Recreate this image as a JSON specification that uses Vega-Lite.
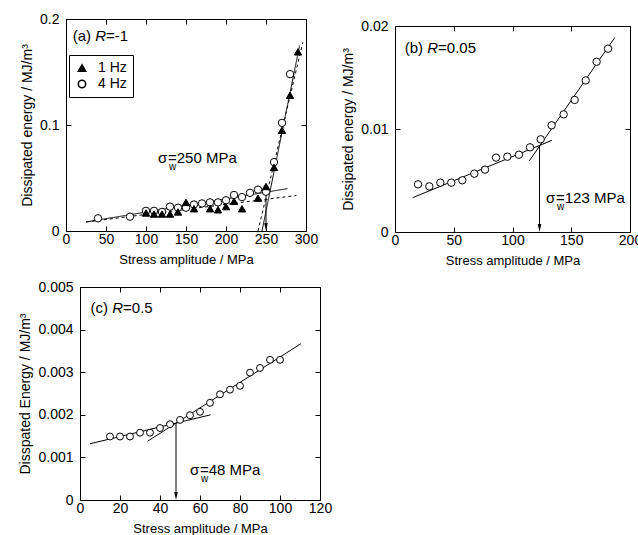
{
"$schema": "https://vega.github.io/schema/vega-lite/v6.json",
"padding": {"left": 18, "top": 11, "right": 5, "bottom": 5},
"background": "white",
"config": {
 "view": {"stroke": "black", "strokeWidth": 1},
 "font": "Liberation Sans",
 "axis": {"domainColor": "black", "domainWidth": 1, "tickColor": "black", "tickWidth": 1, "tickSize": -5, "labelColor": "black", "labelFont": "Liberation Sans", "labelFontSize": 14, "titleFont": "Liberation Sans", "titleColor": "black", "titleFontWeight": "normal", "titlePadding": 5, "grid": false, "labelFlush": false, "labelOverlap": false},
 "axisX": {"titleFontSize": 13, "labelPadding": 6, "titlePadding": 7},
 "axisY": {"titleFontSize": 14, "labelPadding": 12},
 "text": {"font": "Liberation Sans", "color": "black"}
},
"datasets": {
 "a_pts": [
  {"x": 40, "y": 0.012, "f": "4 Hz"}, {"x": 80, "y": 0.0135, "f": "4 Hz"}, {"x": 100, "y": 0.019, "f": "4 Hz"}, {"x": 110, "y": 0.019, "f": "4 Hz"}, {"x": 120, "y": 0.018, "f": "4 Hz"}, {"x": 130, "y": 0.023, "f": "4 Hz"}, {"x": 140, "y": 0.022, "f": "4 Hz"}, {"x": 150, "y": 0.022, "f": "4 Hz"}, {"x": 160, "y": 0.025, "f": "4 Hz"}, {"x": 170, "y": 0.026, "f": "4 Hz"}, {"x": 180, "y": 0.027, "f": "4 Hz"}, {"x": 190, "y": 0.027, "f": "4 Hz"}, {"x": 200, "y": 0.029, "f": "4 Hz"}, {"x": 210, "y": 0.034, "f": "4 Hz"}, {"x": 220, "y": 0.032, "f": "4 Hz"}, {"x": 230, "y": 0.036, "f": "4 Hz"}, {"x": 240, "y": 0.039, "f": "4 Hz"}, {"x": 250, "y": 0.037, "f": "4 Hz"}, {"x": 260, "y": 0.065, "f": "4 Hz"}, {"x": 270, "y": 0.102, "f": "4 Hz"}, {"x": 280, "y": 0.148, "f": "4 Hz"},
  {"x": 100, "y": 0.017, "f": "1 Hz"}, {"x": 110, "y": 0.016, "f": "1 Hz"}, {"x": 120, "y": 0.016, "f": "1 Hz"}, {"x": 130, "y": 0.016, "f": "1 Hz"}, {"x": 140, "y": 0.018, "f": "1 Hz"}, {"x": 150, "y": 0.027, "f": "1 Hz"}, {"x": 160, "y": 0.021, "f": "1 Hz"}, {"x": 180, "y": 0.021, "f": "1 Hz"}, {"x": 190, "y": 0.020, "f": "1 Hz"}, {"x": 200, "y": 0.023, "f": "1 Hz"}, {"x": 210, "y": 0.028, "f": "1 Hz"}, {"x": 220, "y": 0.021, "f": "1 Hz"}, {"x": 240, "y": 0.031, "f": "1 Hz"}, {"x": 250, "y": 0.042, "f": "1 Hz"}, {"x": 260, "y": 0.060, "f": "1 Hz"}, {"x": 270, "y": 0.095, "f": "1 Hz"}, {"x": 280, "y": 0.128, "f": "1 Hz"}, {"x": 290, "y": 0.169, "f": "1 Hz"}
 ],
 "a_lines": [
  {"id": "s1", "x": 25, "y": 0.0085, "d": "solid"}, {"id": "s1", "x": 277, "y": 0.040, "d": "solid"},
  {"id": "d1", "x": 25, "y": 0.0085, "d": "dashed"}, {"id": "d1", "x": 288, "y": 0.0335, "d": "dashed"},
  {"id": "s2", "x": 245, "y": 0, "d": "solid"}, {"id": "s2", "x": 292, "y": 0.175, "d": "solid"},
  {"id": "d2", "x": 240, "y": 0, "d": "dashed"}, {"id": "d2", "x": 296, "y": 0.178, "d": "dashed"}
 ],
 "a_arrow": [{"x": 250, "y": 0.039, "y2": 0.0038}],
 "a_lab": [{"x": 8.4, "y": 0.184, "pre": "(a)", "post": "=-1"}],
 "a_sig": [{"x": 115, "y": 0.0689, "t": "=250 MPa"}],
 "b_pts": [
  {"x": 19.6, "y": 0.00463}, {"x": 29.2, "y": 0.00443}, {"x": 38.6, "y": 0.00479}, {"x": 47.9, "y": 0.00479}, {"x": 57.3, "y": 0.00502}, {"x": 67.5, "y": 0.00566}, {"x": 76.6, "y": 0.00605}, {"x": 86, "y": 0.00722}, {"x": 95.6, "y": 0.00731}, {"x": 105.5, "y": 0.0075}, {"x": 114.9, "y": 0.00822}, {"x": 124, "y": 0.009}, {"x": 133.3, "y": 0.01036}, {"x": 143.5, "y": 0.01142}, {"x": 152.9, "y": 0.01282}, {"x": 162.3, "y": 0.01472}, {"x": 171.6, "y": 0.01653}, {"x": 181.3, "y": 0.0178}
 ],
 "b_lines": [
  {"id": "l", "x": 15, "y": 0.00333}, {"id": "l", "x": 133.6, "y": 0.0089},
  {"id": "h", "x": 114.3, "y": 0.0069}, {"id": "h", "x": 187, "y": 0.01887}
 ],
 "b_arrow": [{"x": 123, "y": 0.00845, "y2": 0.00039}],
 "b_lab": [{"x": 8.3, "y": 0.0179, "pre": "(b)", "post": "=0.05"}],
 "b_sig": [{"x": 128.5, "y": 0.00327, "t": "=123 MPa"}],
 "c_pts": [
  {"x": 15, "y": 0.00149}, {"x": 20, "y": 0.00149}, {"x": 25, "y": 0.00149}, {"x": 30, "y": 0.00158}, {"x": 35, "y": 0.00158}, {"x": 40, "y": 0.00169}, {"x": 45, "y": 0.00178}, {"x": 50, "y": 0.00188}, {"x": 55, "y": 0.00199}, {"x": 60, "y": 0.00207}, {"x": 65, "y": 0.00228}, {"x": 70, "y": 0.00248}, {"x": 75, "y": 0.00259}, {"x": 80, "y": 0.00268}, {"x": 85, "y": 0.00299}, {"x": 90, "y": 0.0031}, {"x": 95, "y": 0.00329}, {"x": 100, "y": 0.00329}
 ],
 "c_lines": [
  {"id": "l", "x": 5, "y": 0.00132}, {"id": "l", "x": 65.3, "y": 0.002},
  {"id": "h", "x": 33.8, "y": 0.00138}, {"id": "h", "x": 110.5, "y": 0.00367}
 ],
 "c_arrow": [{"x": 48, "y": 0.0018, "y2": 0.000094}],
 "c_lab": [{"x": 5.3, "y": 0.00451, "pre": "(c)", "post": "=0.5"}],
 "c_sig": [{"x": 55, "y": 0.000704, "t": "=48 MPa"}]
},
"columns": 2,
"spacing": {"row": 13, "column": 9},
"concat": [
   {
    "width": 240, "height": 212,
    "layer": [
     {"data": {"name": "a_lines"}, "mark": {"type": "line", "color": "black", "strokeWidth": 1},
      "encoding": {
       "x": {"field": "x", "type": "quantitative", "scale": {"domain": [0, 300], "nice": false}, "axis": {"orient": "top", "labels": false, "title": null, "values": [0, 50, 100, 150, 200, 250, 300]}},
       "y": {"field": "y", "type": "quantitative", "scale": {"domain": [0, 0.2], "nice": false}, "axis": {"orient": "right", "labels": false, "title": null, "values": [0, 0.1, 0.2]}},
       "detail": {"field": "id"},
       "strokeDash": {"field": "d", "type": "nominal", "scale": {"domain": ["solid", "dashed"], "range": [[1, 0], [3, 3]]}, "legend": null}
      }},
     {"data": {"name": "a_arrow"}, "mark": {"type": "rule", "color": "black", "strokeWidth": 1},
      "encoding": {
       "x": {"field": "x", "type": "quantitative", "scale": {"domain": [0, 300], "nice": false}, "axis": null},
       "y": {"field": "y", "type": "quantitative", "scale": {"domain": [0, 0.2], "nice": false}, "axis": null},
       "y2": {"field": "y2"}
      }},
     {"data": {"name": "a_arrow"}, "mark": {"type": "point", "shape": "M-0.45,-1L0.45,-1L0,1Z", "filled": true, "color": "black", "size": 64, "opacity": 1},
      "encoding": {
       "x": {"field": "x", "type": "quantitative", "scale": {"domain": [0, 300], "nice": false}, "axis": null},
       "y": {"field": "y2", "type": "quantitative", "scale": {"domain": [0, 0.2], "nice": false}, "axis": null}
      }},
     {"data": {"name": "a_pts"}, "mark": {"type": "point", "filled": true, "stroke": "black", "strokeWidth": 1, "size": 55, "opacity": 1},
      "encoding": {
       "x": {"field": "x", "type": "quantitative", "scale": {"domain": [0, 300], "nice": false}, "axis": {"orient": "bottom", "title": "Stress amplitude / MPa", "values": [0, 50, 100, 150, 200, 250, 300]}},
       "y": {"field": "y", "type": "quantitative", "scale": {"domain": [0, 0.2], "nice": false}, "axis": {"orient": "left", "title": "Dissipated energy / MJ/m³", "values": [0, 0.1, 0.2], "format": ".1~f"}},
       "shape": {"field": "f", "type": "nominal", "scale": {"domain": ["1 Hz", "4 Hz"], "range": ["triangle-up", "circle"]},
        "legend": {"title": null, "orient": "none", "legendX": 3, "legendY": 36, "strokeColor": "black", "padding": 6, "labelFontSize": 14, "labelFont": "Liberation Sans", "labelColor": "black", "symbolSize": 55, "rowPadding": 2, "labelOffset": 9, "encode": {"symbols": {"update": {"stroke": {"value": "black"}, "strokeWidth": {"value": 1}}}}}},
       "fill": {"field": "f", "type": "nominal", "scale": {"domain": ["1 Hz", "4 Hz"], "range": ["black", "white"]},
        "legend": {"title": null, "orient": "none", "legendX": 3, "legendY": 36, "strokeColor": "black", "padding": 6, "labelFontSize": 14, "labelFont": "Liberation Sans", "labelColor": "black", "symbolSize": 55, "rowPadding": 2, "labelOffset": 9, "encode": {"symbols": {"update": {"stroke": {"value": "black"}, "strokeWidth": {"value": 1}}}}}}
      }},
     {"data": {"name": "a_lab"}, "mark": {"type": "text", "align": "left", "baseline": "middle", "fontSize": 15},
      "encoding": {
       "x": {"field": "x", "type": "quantitative", "scale": {"domain": [0, 300], "nice": false}, "axis": null},
       "y": {"field": "y", "type": "quantitative", "scale": {"domain": [0, 0.2], "nice": false}, "axis": null},
       "text": {"field": "pre"}
      }},
     {"data": {"name": "a_lab"}, "mark": {"type": "text", "align": "left", "baseline": "middle", "fontSize": 15, "fontStyle": "italic", "dx": 22.5},
      "encoding": {
       "x": {"field": "x", "type": "quantitative", "scale": {"domain": [0, 300], "nice": false}, "axis": null},
       "y": {"field": "y", "type": "quantitative", "scale": {"domain": [0, 0.2], "nice": false}, "axis": null},
       "text": {"value": "R"}
      }},
     {"data": {"name": "a_lab"}, "mark": {"type": "text", "align": "left", "baseline": "middle", "fontSize": 15, "dx": 33.3},
      "encoding": {
       "x": {"field": "x", "type": "quantitative", "scale": {"domain": [0, 300], "nice": false}, "axis": null},
       "y": {"field": "y", "type": "quantitative", "scale": {"domain": [0, 0.2], "nice": false}, "axis": null},
       "text": {"field": "post"}
      }},
     {"data": {"name": "a_sig"}, "mark": {"type": "text", "align": "left", "baseline": "middle", "fontSize": 15},
      "encoding": {
       "x": {"field": "x", "type": "quantitative", "scale": {"domain": [0, 300], "nice": false}, "axis": null},
       "y": {"field": "y", "type": "quantitative", "scale": {"domain": [0, 0.2], "nice": false}, "axis": null},
       "text": {"value": "σ"}
      }},
     {"data": {"name": "a_sig"}, "mark": {"type": "text", "align": "left", "baseline": "middle", "fontSize": 10, "dx": 11, "dy": 9},
      "encoding": {
       "x": {"field": "x", "type": "quantitative", "scale": {"domain": [0, 300], "nice": false}, "axis": null},
       "y": {"field": "y", "type": "quantitative", "scale": {"domain": [0, 0.2], "nice": false}, "axis": null},
       "text": {"value": "w"}
      }},
     {"data": {"name": "a_sig"}, "mark": {"type": "text", "align": "left", "baseline": "middle", "fontSize": 15, "dx": 10},
      "encoding": {
       "x": {"field": "x", "type": "quantitative", "scale": {"domain": [0, 300], "nice": false}, "axis": null},
       "y": {"field": "y", "type": "quantitative", "scale": {"domain": [0, 0.2], "nice": false}, "axis": null},
       "text": {"field": "t"}
      }}
    ],
    "resolve": {"axis": {"x": "independent", "y": "independent"}}
   },
   {
    "width": 235, "height": 213,
    "view": {"stroke": null},
    "layer": [
     {"data": {"name": "b_lines"}, "mark": {"type": "line", "color": "black", "strokeWidth": 1},
      "encoding": {
       "x": {"field": "x", "type": "quantitative", "scale": {"domain": [0, 200], "nice": false}, "axis": {"orient": "top", "labels": false, "title": null, "offset": -7, "values": [0, 50, 100, 150, 200]}},
       "y": {"field": "y", "type": "quantitative", "scale": {"domain": [0, 0.02], "nice": false, "range": [213, 7]}, "axis": {"orient": "right", "labels": false, "title": null, "values": [0, 0.01, 0.02]}},
       "detail": {"field": "id"}
      }},
     {"data": {"name": "b_arrow"}, "mark": {"type": "rule", "color": "black", "strokeWidth": 1},
      "encoding": {
       "x": {"field": "x", "type": "quantitative", "scale": {"domain": [0, 200], "nice": false}, "axis": null},
       "y": {"field": "y", "type": "quantitative", "scale": {"domain": [0, 0.02], "nice": false, "range": [213, 7]}, "axis": null},
       "y2": {"field": "y2"}
      }},
     {"data": {"name": "b_arrow"}, "mark": {"type": "point", "shape": "M-0.45,-1L0.45,-1L0,1Z", "filled": true, "color": "black", "size": 64, "opacity": 1},
      "encoding": {
       "x": {"field": "x", "type": "quantitative", "scale": {"domain": [0, 200], "nice": false}, "axis": null},
       "y": {"field": "y2", "type": "quantitative", "scale": {"domain": [0, 0.02], "nice": false, "range": [213, 7]}, "axis": null}
      }},
     {"data": {"name": "b_pts"}, "mark": {"type": "point", "shape": "circle", "filled": true, "fill": "white", "stroke": "black", "strokeWidth": 1, "size": 55, "opacity": 1},
      "encoding": {
       "x": {"field": "x", "type": "quantitative", "scale": {"domain": [0, 200], "nice": false}, "axis": {"orient": "bottom", "title": "Stress amplitude / MPa", "values": [0, 50, 100, 150, 200]}},
       "y": {"field": "y", "type": "quantitative", "scale": {"domain": [0, 0.02], "nice": false, "range": [213, 7]}, "axis": {"orient": "left", "title": "Dissipated energy / MJ/m³", "values": [0, 0.01, 0.02], "format": ".2~f"}}
      }},
     {"data": {"name": "b_lab"}, "mark": {"type": "text", "align": "left", "baseline": "middle", "fontSize": 15},
      "encoding": {
       "x": {"field": "x", "type": "quantitative", "scale": {"domain": [0, 200], "nice": false}, "axis": null},
       "y": {"field": "y", "type": "quantitative", "scale": {"domain": [0, 0.02], "nice": false, "range": [213, 7]}, "axis": null},
       "text": {"field": "pre"}
      }},
     {"data": {"name": "b_lab"}, "mark": {"type": "text", "align": "left", "baseline": "middle", "fontSize": 15, "fontStyle": "italic", "dx": 22.5},
      "encoding": {
       "x": {"field": "x", "type": "quantitative", "scale": {"domain": [0, 200], "nice": false}, "axis": null},
       "y": {"field": "y", "type": "quantitative", "scale": {"domain": [0, 0.02], "nice": false, "range": [213, 7]}, "axis": null},
       "text": {"value": "R"}
      }},
     {"data": {"name": "b_lab"}, "mark": {"type": "text", "align": "left", "baseline": "middle", "fontSize": 15, "dx": 33.3},
      "encoding": {
       "x": {"field": "x", "type": "quantitative", "scale": {"domain": [0, 200], "nice": false}, "axis": null},
       "y": {"field": "y", "type": "quantitative", "scale": {"domain": [0, 0.02], "nice": false, "range": [213, 7]}, "axis": null},
       "text": {"field": "post"}
      }},
     {"data": {"name": "b_sig"}, "mark": {"type": "text", "align": "left", "baseline": "middle", "fontSize": 15},
      "encoding": {
       "x": {"field": "x", "type": "quantitative", "scale": {"domain": [0, 200], "nice": false}, "axis": null},
       "y": {"field": "y", "type": "quantitative", "scale": {"domain": [0, 0.02], "nice": false, "range": [213, 7]}, "axis": null},
       "text": {"value": "σ"}
      }},
     {"data": {"name": "b_sig"}, "mark": {"type": "text", "align": "left", "baseline": "middle", "fontSize": 10, "dx": 11, "dy": 9},
      "encoding": {
       "x": {"field": "x", "type": "quantitative", "scale": {"domain": [0, 200], "nice": false}, "axis": null},
       "y": {"field": "y", "type": "quantitative", "scale": {"domain": [0, 0.02], "nice": false, "range": [213, 7]}, "axis": null},
       "text": {"value": "w"}
      }},
     {"data": {"name": "b_sig"}, "mark": {"type": "text", "align": "left", "baseline": "middle", "fontSize": 15, "dx": 10},
      "encoding": {
       "x": {"field": "x", "type": "quantitative", "scale": {"domain": [0, 200], "nice": false}, "axis": null},
       "y": {"field": "y", "type": "quantitative", "scale": {"domain": [0, 0.02], "nice": false, "range": [213, 7]}, "axis": null},
       "text": {"field": "t"}
      }}
    ],
    "resolve": {"axis": {"x": "independent", "y": "independent"}}
   },
 {
  "width": 254, "height": 213,
  "view": {"stroke": null},
  "layer": [
   {"data": {"name": "c_lines"}, "mark": {"type": "line", "color": "black", "strokeWidth": 1},
    "encoding": {
     "x": {"field": "x", "type": "quantitative", "scale": {"domain": [0, 120], "nice": false, "range": [14, 254]}, "axis": {"orient": "top", "labels": false, "title": null, "values": [0, 20, 40, 60, 80, 100, 120]}},
     "y": {"field": "y", "type": "quantitative", "scale": {"domain": [0, 0.005], "nice": false}, "axis": {"orient": "right", "labels": false, "title": null, "values": [0, 0.001, 0.002, 0.003, 0.004, 0.005]}},
     "detail": {"field": "id"}
    }},
   {"data": {"name": "c_arrow"}, "mark": {"type": "rule", "color": "black", "strokeWidth": 1},
    "encoding": {
     "x": {"field": "x", "type": "quantitative", "scale": {"domain": [0, 120], "nice": false, "range": [14, 254]}, "axis": null},
     "y": {"field": "y", "type": "quantitative", "scale": {"domain": [0, 0.005], "nice": false}, "axis": null},
     "y2": {"field": "y2"}
    }},
   {"data": {"name": "c_arrow"}, "mark": {"type": "point", "shape": "M-0.45,-1L0.45,-1L0,1Z", "filled": true, "color": "black", "size": 64, "opacity": 1},
    "encoding": {
     "x": {"field": "x", "type": "quantitative", "scale": {"domain": [0, 120], "nice": false, "range": [14, 254]}, "axis": null},
     "y": {"field": "y2", "type": "quantitative", "scale": {"domain": [0, 0.005], "nice": false}, "axis": null}
    }},
   {"data": {"name": "c_pts"}, "mark": {"type": "point", "shape": "circle", "filled": true, "fill": "white", "stroke": "black", "strokeWidth": 1, "size": 48, "opacity": 1},
    "encoding": {
     "x": {"field": "x", "type": "quantitative", "scale": {"domain": [0, 120], "nice": false, "range": [14, 254]}, "axis": {"orient": "bottom", "title": "Stress amplitude / MPa", "values": [0, 20, 40, 60, 80, 100, 120]}},
     "y": {"field": "y", "type": "quantitative", "scale": {"domain": [0, 0.005], "nice": false}, "axis": {"orient": "left", "offset": -14, "title": "Disspated Energy / MJ/m³", "values": [0, 0.001, 0.002, 0.003, 0.004, 0.005], "format": ".3~f"}}
    }},
   {"data": {"name": "c_lab"}, "mark": {"type": "text", "align": "left", "baseline": "middle", "fontSize": 15},
    "encoding": {
     "x": {"field": "x", "type": "quantitative", "scale": {"domain": [0, 120], "nice": false, "range": [14, 254]}, "axis": null},
     "y": {"field": "y", "type": "quantitative", "scale": {"domain": [0, 0.005], "nice": false}, "axis": null},
     "text": {"field": "pre"}
    }},
   {"data": {"name": "c_lab"}, "mark": {"type": "text", "align": "left", "baseline": "middle", "fontSize": 15, "fontStyle": "italic", "dx": 21.7},
    "encoding": {
     "x": {"field": "x", "type": "quantitative", "scale": {"domain": [0, 120], "nice": false, "range": [14, 254]}, "axis": null},
     "y": {"field": "y", "type": "quantitative", "scale": {"domain": [0, 0.005], "nice": false}, "axis": null},
     "text": {"value": "R"}
    }},
   {"data": {"name": "c_lab"}, "mark": {"type": "text", "align": "left", "baseline": "middle", "fontSize": 15, "dx": 32.5},
    "encoding": {
     "x": {"field": "x", "type": "quantitative", "scale": {"domain": [0, 120], "nice": false, "range": [14, 254]}, "axis": null},
     "y": {"field": "y", "type": "quantitative", "scale": {"domain": [0, 0.005], "nice": false}, "axis": null},
     "text": {"field": "post"}
    }},
   {"data": {"name": "c_sig"}, "mark": {"type": "text", "align": "left", "baseline": "middle", "fontSize": 15},
    "encoding": {
     "x": {"field": "x", "type": "quantitative", "scale": {"domain": [0, 120], "nice": false, "range": [14, 254]}, "axis": null},
     "y": {"field": "y", "type": "quantitative", "scale": {"domain": [0, 0.005], "nice": false}, "axis": null},
     "text": {"value": "σ"}
    }},
   {"data": {"name": "c_sig"}, "mark": {"type": "text", "align": "left", "baseline": "middle", "fontSize": 10, "dx": 11, "dy": 9},
    "encoding": {
     "x": {"field": "x", "type": "quantitative", "scale": {"domain": [0, 120], "nice": false, "range": [14, 254]}, "axis": null},
     "y": {"field": "y", "type": "quantitative", "scale": {"domain": [0, 0.005], "nice": false}, "axis": null},
     "text": {"value": "w"}
    }},
   {"data": {"name": "c_sig"}, "mark": {"type": "text", "align": "left", "baseline": "middle", "fontSize": 15, "dx": 10},
    "encoding": {
     "x": {"field": "x", "type": "quantitative", "scale": {"domain": [0, 120], "nice": false, "range": [14, 254]}, "axis": null},
     "y": {"field": "y", "type": "quantitative", "scale": {"domain": [0, 0.005], "nice": false}, "axis": null},
     "text": {"field": "t"}
    }}
  ],
  "resolve": {"axis": {"x": "independent", "y": "independent"}}
 }
]
}
